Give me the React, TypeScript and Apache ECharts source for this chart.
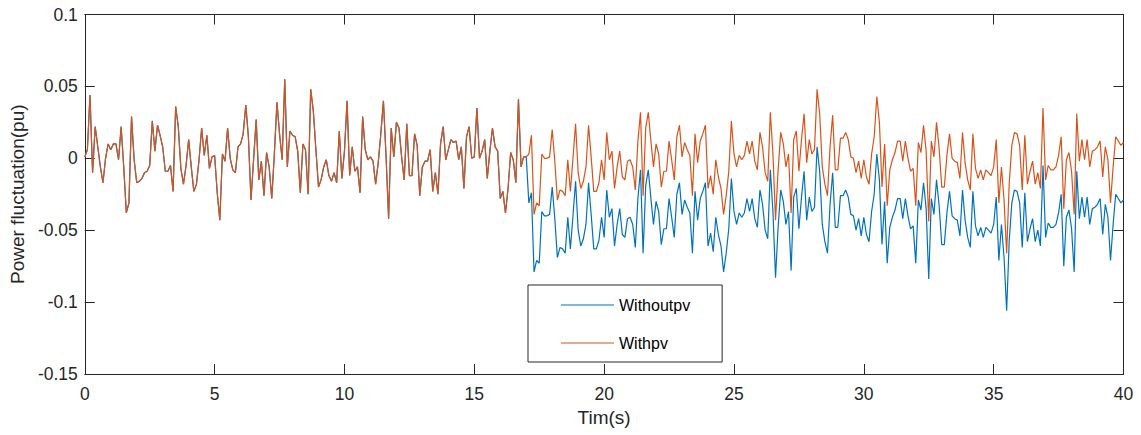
import React, { useEffect, useRef } from "react";
import * as echarts from "echarts";

// time step of the recorded samples (s)
const STEP = 0.1;
const X_TICKS = [0, 5, 10, 15, 20, 25, 30, 35, 40];
const Y_TICKS = [-0.15, -0.1, -0.05, 0, 0.05, 0.1];

// Withpv: samples from t = 0.0 s to t = 40.0 s
const withPv = [
  0.001, 0.006, 0.044, -0.010, 0.022, 0.008, -0.006, -0.017, 0.000, 0.010,
  0.006, 0.010, 0.010, -0.001, 0.022, -0.006, -0.038, -0.031, 0.029, -0.001,
  -0.017, -0.016, -0.014, -0.010, -0.009, -0.005, 0.026, 0.005, 0.023, 0.016,
  0.008, -0.009, -0.009, -0.005, -0.023, 0.036, 0.022, -0.007, -0.018, -0.005,
  0.013, -0.006, -0.023, -0.018, -0.001, 0.021, 0.002, 0.016, -0.007, 0.001,
  0.002, -0.024, -0.043, 0.003, -0.002, 0.021, 0.000, -0.008, -0.010, 0.008,
  0.010, 0.017, 0.037, 0.015, -0.029, -0.001, 0.027, -0.015, -0.002, -0.026,
  0.004, -0.006, -0.028, 0.003, 0.039, 0.017, -0.001, 0.055, -0.006, 0.019,
  0.016, 0.015, 0.005, -0.024, 0.010, 0.006, -0.025, 0.048, 0.033, 0.006,
  -0.020, -0.015, -0.006, -0.001, -0.012, -0.016, -0.010, -0.017, 0.019, -0.014,
  0.005, 0.040, -0.012, 0.008, -0.009, -0.006, -0.024, 0.029, 0.006, -0.001,
  0.001, -0.002, -0.018, -0.003, 0.017, 0.040, 0.002, -0.042, 0.021, 0.001,
  0.025, 0.021, 0.001, -0.015, 0.024, -0.012, -0.012, 0.017, 0.009, -0.026,
  -0.006, -0.002, -0.002, 0.006, -0.023, -0.010, -0.025, 0.010, 0.022, -0.001,
  0.006, 0.013, 0.011, 0.012, -0.001, 0.008, -0.021, 0.015, 0.022, 0.000,
  0.001, 0.035, 0.000, 0.005, 0.013, -0.014, 0.005, 0.021, 0.008, 0.005,
  -0.028, -0.023, -0.038, -0.021, 0.004, -0.001, -0.017, 0.041, -0.006, 0.001,
  0.001, 0.003, 0.016, -0.039, -0.031, -0.033, 0.003, 0.000, 0.000, 0.001,
  0.020, -0.002, -0.029, -0.022, -0.023, -0.026, -0.001, -0.023, 0.000, 0.024,
  -0.010, -0.021, -0.016, -0.006, 0.023, 0.001, -0.023, -0.023, -0.017, -0.001,
  -0.015, 0.018, -0.001, 0.005, -0.021, -0.006, 0.005, -0.013, -0.015, -0.002,
  -0.001, -0.006, -0.022, 0.012, 0.032, -0.026, 0.021, 0.032, 0.012, -0.006,
  0.010, 0.003, -0.020, -0.009, -0.009, 0.012, -0.001, -0.015, 0.015, 0.023,
  0.001, 0.011, 0.006, 0.002, -0.026, 0.017, -0.003, 0.012, 0.017, 0.023,
  -0.021, -0.012, -0.025, -0.001, -0.013, -0.021, -0.039, -0.026, -0.009, 0.026,
  0.003, -0.006, 0.002, -0.001, 0.002, 0.012, 0.003, 0.012, -0.002, -0.008,
  0.018, 0.008, -0.010, -0.016, 0.032, 0.003, -0.043, -0.008, 0.018, 0.010,
  -0.006, 0.003, -0.038, 0.013, 0.019, -0.009, 0.013, 0.031, -0.003, 0.013,
  0.003, 0.006, 0.048, 0.031, -0.006, -0.018, -0.026, 0.008, 0.030, -0.008,
  -0.008, 0.014, 0.014, 0.018, 0.013, 0.001, 0.000, -0.010, -0.002, -0.014,
  -0.001, -0.013, -0.018, 0.003, 0.015, 0.043, 0.025, -0.020, 0.010, -0.033,
  -0.008, -0.001, 0.004, 0.012, 0.012, -0.002, 0.012, 0.000, -0.009, -0.007,
  -0.033, 0.011, 0.004, 0.023, 0.005, -0.044, 0.012, 0.001, 0.025, 0.007,
  -0.020, -0.020, 0.002, 0.017, 0.000, -0.002, -0.003, -0.014, 0.018, -0.003,
  -0.015, -0.022, 0.017, -0.007, -0.014, -0.008, -0.015, -0.008, -0.010, -0.012,
  -0.006, 0.013, -0.031, -0.006, -0.029, -0.066, -0.017, 0.009, 0.018, 0.017,
  0.009, -0.022, 0.016, -0.018, -0.009, -0.002, -0.018, -0.010, -0.021, 0.035,
  -0.015, -0.005, -0.008, -0.008, -0.006, 0.002, 0.015, -0.035, -0.001, 0.004,
  -0.009, -0.039, 0.031, -0.002, 0.013, -0.001, 0.013, -0.006, 0.005, 0.006,
  0.008, 0.012, -0.013, 0.008, -0.001, -0.031, -0.006, 0.015, 0.012, 0.009,
  0.011,
];

// Withoutpv: identical to Withpv up to this sample index (t = 17.0 s)
const SPLIT_INDEX = 170;
// Withoutpv: samples from t = 17.0 s to t = 40.0 s
const withoutPvTail = [
  0.001, -0.031, -0.024, -0.079, -0.071, -0.073, -0.037, -0.040, -0.040, -0.039,
  -0.020, -0.042, -0.069, -0.062, -0.063, -0.066, -0.041, -0.063, -0.040, -0.016,
  -0.050, -0.061, -0.056, -0.046, -0.017, -0.039, -0.063, -0.063, -0.057, -0.041,
  -0.055, -0.022, -0.041, -0.035, -0.061, -0.046, -0.035, -0.053, -0.055, -0.042,
  -0.041, -0.046, -0.062, -0.028, -0.008, -0.066, -0.019, -0.008, -0.028, -0.046,
  -0.030, -0.037, -0.060, -0.049, -0.049, -0.028, -0.041, -0.055, -0.025, -0.017,
  -0.039, -0.029, -0.034, -0.038, -0.066, -0.023, -0.043, -0.028, -0.023, -0.017,
  -0.061, -0.052, -0.065, -0.041, -0.053, -0.061, -0.079, -0.066, -0.049, -0.014,
  -0.037, -0.046, -0.038, -0.041, -0.038, -0.028, -0.037, -0.028, -0.042, -0.048,
  -0.022, -0.032, -0.050, -0.056, -0.008, -0.037, -0.083, -0.048, -0.022, -0.030,
  -0.046, -0.037, -0.078, -0.027, -0.021, -0.049, -0.027, -0.009, -0.043, -0.027,
  -0.037, -0.034, 0.008, -0.009, -0.046, -0.058, -0.066, -0.032, -0.010, -0.048,
  -0.048, -0.026, -0.026, -0.022, -0.027, -0.039, -0.040, -0.050, -0.042, -0.054,
  -0.041, -0.053, -0.058, -0.037, -0.025, 0.003, -0.015, -0.060, -0.030, -0.073,
  -0.048, -0.041, -0.036, -0.028, -0.028, -0.042, -0.028, -0.040, -0.049, -0.047,
  -0.073, -0.029, -0.036, -0.017, -0.035, -0.084, -0.028, -0.039, -0.015, -0.033,
  -0.060, -0.060, -0.038, -0.023, -0.040, -0.042, -0.043, -0.054, -0.022, -0.043,
  -0.055, -0.062, -0.023, -0.047, -0.054, -0.048, -0.055, -0.048, -0.050, -0.052,
  -0.046, -0.027, -0.071, -0.046, -0.069, -0.106, -0.057, -0.031, -0.022, -0.023,
  -0.031, -0.062, -0.024, -0.058, -0.049, -0.042, -0.058, -0.050, -0.061, -0.005,
  -0.055, -0.045, -0.048, -0.048, -0.046, -0.038, -0.025, -0.075, -0.041, -0.036,
  -0.049, -0.079, -0.009, -0.042, -0.027, -0.041, -0.027, -0.046, -0.035, -0.034,
  -0.032, -0.028, -0.053, -0.032, -0.041, -0.071, -0.046, -0.025, -0.028, -0.031,
  -0.029,
];

const SERIES_NAMES = ["Withoutpv", "Withpv"];
const COLORS = ["#0072BD", "#D95319"];

const FONT = "'Liberation Sans', Arial, Helvetica, sans-serif";
const AX = "#262626";
// thin horizontal bar used as the legend line sample
const LEGEND_LINE_ICON = "path://M0,0 L100,0 L100,2 L0,2 Z";

export default function App() {
  const ref = useRef<HTMLDivElement>(null);

  useEffect(() => {
    if (!ref.current) return;
    const chart = echarts.init(ref.current, undefined, { renderer: "svg" });

    const withoutPv = [...withPv.slice(0, SPLIT_INDEX), ...withoutPvTail];
    const toPairs = (arr: number[]) =>
      arr.map((v, i) => [Math.round(i * STEP * 10) / 10, v]);

    const baseX = {
      type: "value" as const,
      min: X_TICKS[0],
      max: X_TICKS[X_TICKS.length - 1],
      interval: 5,
      splitLine: { show: false },
      axisLine: { show: true, onZero: false, lineStyle: { color: AX, width: 1 } },
      axisTick: { show: true, inside: true, length: 10, lineStyle: { color: AX } },
    };
    const baseY = {
      type: "value" as const,
      min: Y_TICKS[0],
      max: Y_TICKS[Y_TICKS.length - 1],
      interval: 0.05,
      splitLine: { show: false },
      axisLine: { show: true, onZero: false, lineStyle: { color: AX, width: 1 } },
      axisTick: { show: true, inside: true, length: 10, lineStyle: { color: AX } },
    };

    chart.setOption({
      animation: false,
      backgroundColor: "#ffffff",
      textStyle: { fontFamily: FONT },
      grid: { left: 82, right: 17.5, top: 14.5, bottom: 61, containLabel: false },
      legend: {
        data: SERIES_NAMES.map((n) => ({ name: n, icon: LEGEND_LINE_ICON })),
        orient: "vertical",
        left: 528,
        top: 285,
        padding: [12, 32, 11, 33],
        itemWidth: 53,
        itemHeight: 14,
        itemGap: 22,
        itemStyle: { borderWidth: 0 },
        backgroundColor: "#ffffff",
        borderColor: AX,
        borderWidth: 1,
        textStyle: { fontFamily: FONT, fontSize: 16, color: "#000000" },
      },
      xAxis: [
        {
          ...baseX,
          position: "bottom",
          name: "Tim(s)",
          nameLocation: "middle",
          nameGap: 29,
          nameTextStyle: { fontFamily: FONT, fontSize: 19, color: AX },
          axisLabel: {
            color: AX,
            fontSize: 17.5,
            fontFamily: FONT,
            margin: 11,
            formatter: (v: number) => String(v),
          },
        },
        {
          ...baseX,
          position: "top",
          axisLabel: { show: false },
        },
      ],
      yAxis: [
        {
          ...baseY,
          position: "left",
          name: "Power fluctuation(pu)",
          nameLocation: "middle",
          nameGap: 52,
          nameTextStyle: { fontFamily: FONT, fontSize: 19, color: AX },
          axisLabel: {
            color: AX,
            fontSize: 17.5,
            fontFamily: FONT,
            margin: 7,
            formatter: (v: number) => String(Math.round(v * 100) / 100),
          },
        },
        {
          ...baseY,
          position: "right",
          axisLabel: { show: false },
        },
      ],
      series: [
        {
          name: SERIES_NAMES[0],
          type: "line",
          xAxisIndex: 0,
          yAxisIndex: 0,
          data: toPairs(withoutPv),
          symbol: "none",
          color: COLORS[0],
          lineStyle: { color: COLORS[0], width: 1.2 },
        },
        {
          name: SERIES_NAMES[1],
          type: "line",
          xAxisIndex: 0,
          yAxisIndex: 0,
          data: toPairs(withPv),
          symbol: "none",
          color: COLORS[1],
          lineStyle: { color: COLORS[1], width: 1.2 },
        },
      ],
    });

    return () => chart.dispose();
  }, []);

  return (
    <div
      ref={ref}
      style={{ position: "fixed", left: 0, top: 0, width: 1141, height: 435, background: "#fff" }}
    />
  );
}
